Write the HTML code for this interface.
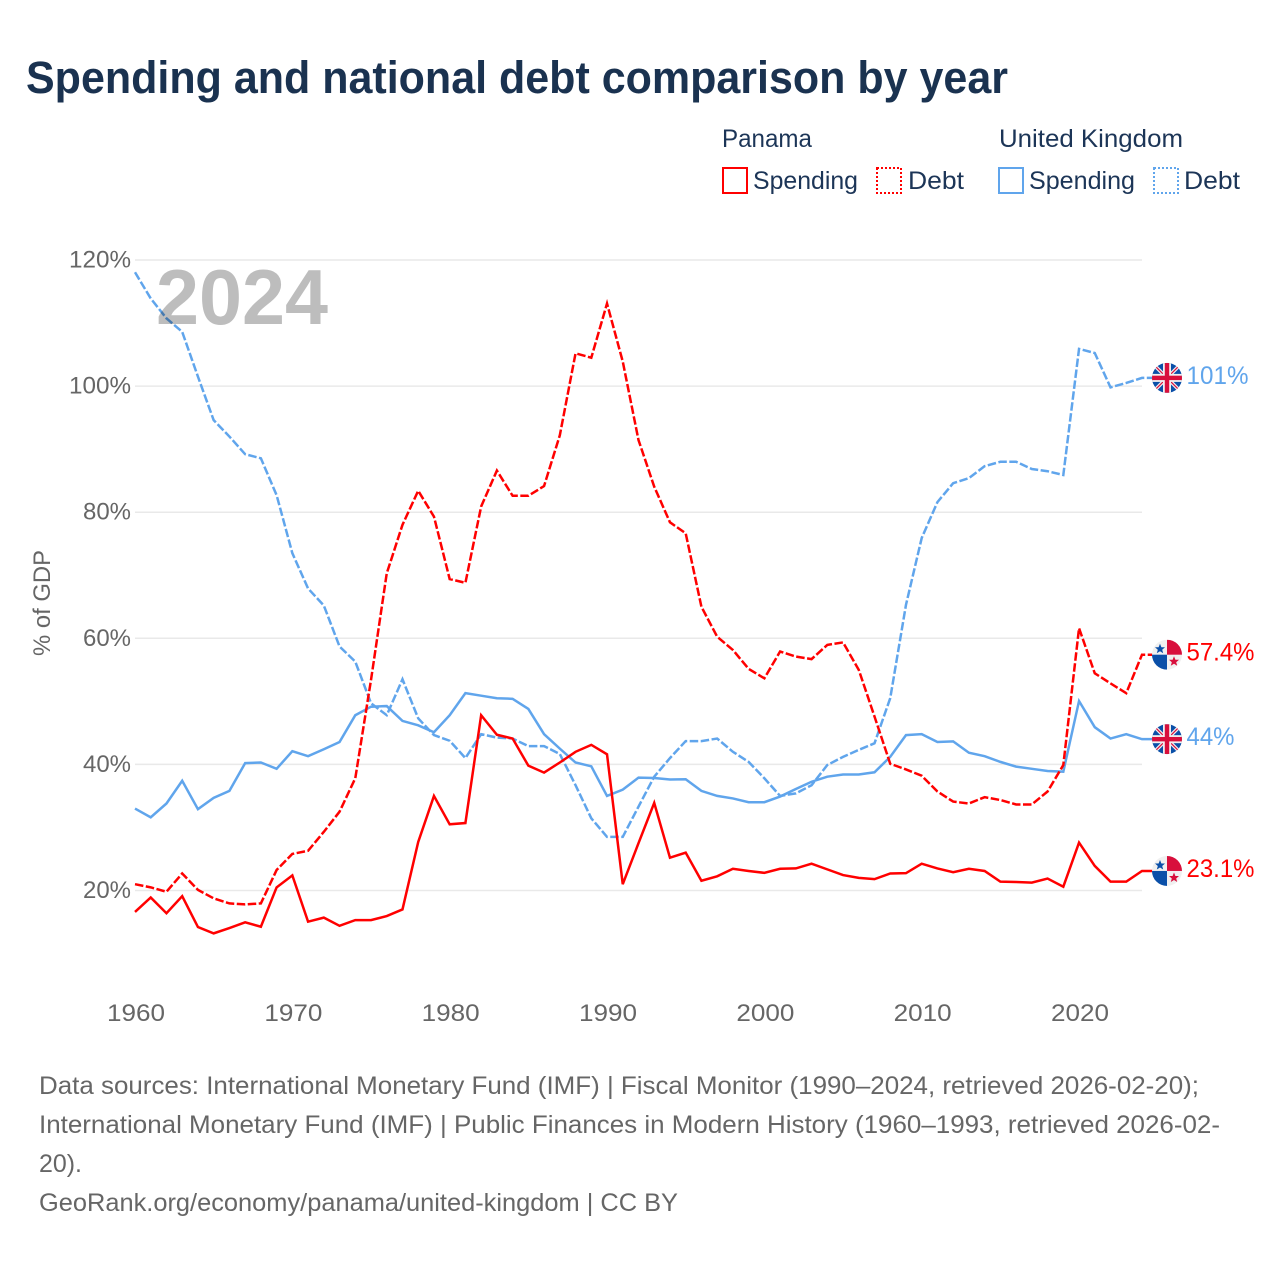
<!DOCTYPE html>
<html lang="en">
<head>
<meta charset="utf-8">
<title>Spending and national debt comparison by year</title>
<style>
html,body{margin:0;padding:0;background:#fff;}
svg{display:block;}
text{font-family:"Liberation Sans",sans-serif;}
</style>
</head>
<body>
<svg id="chart" xmlns="http://www.w3.org/2000/svg" width="1280" height="1280" viewBox="0 0 1280 1280">
  <defs>
    <clipPath id="flag-clip"><circle cx="0" cy="0" r="15"/></clipPath>
    <g id="flag-uk">
      <g clip-path="url(#flag-clip)">
        <rect x="-15" y="-15" width="30" height="30" fill="#0a4fa8"/>
        <path d="M-15-15L15 15M15-15L-15 15" stroke="#f0f0f0" stroke-width="3.6"/>
        <path d="M-15-15L15 15M15-15L-15 15" stroke="#d80f3c" stroke-width="1.2"/>
        <rect x="-15" y="-4" width="30" height="8" fill="#f0f0f0"/>
        <rect x="-4" y="-15" width="8" height="30" fill="#f0f0f0"/>
        <rect x="-15" y="-2.2" width="30" height="4.4" fill="#d80f3c"/>
        <rect x="-2.2" y="-15" width="4.4" height="30" fill="#d80f3c"/>
      </g>
    </g>
    <g id="flag-pa">
      <g clip-path="url(#flag-clip)">
        <rect x="-15" y="-15" width="30" height="30" fill="#f0f0f0"/>
        <rect x="0" y="-15" width="15" height="15" fill="#d80f3c"/>
        <rect x="-15" y="0" width="15" height="15" fill="#0a4fa8"/>
        <polygon points="-7,-11 -5.6,-7.4 -2,-7.4 -4.8,-5 -3.8,-1.4 -7,-3.4 -10.2,-1.4 -9.2,-5 -12,-7.4 -8.4,-7.4" fill="#0a4fa8"/>
        <polygon points="7,1.5 8.4,5.1 12,5.1 9.2,7.5 10.2,11.1 7,9.1 3.8,11.1 4.8,7.5 2,5.1 5.6,5.1" fill="#d80f3c"/>
      </g>
    </g>
  </defs>

  <text x="26" y="93" font-size="45" font-weight="700" fill="#1a3250" textLength="982" lengthAdjust="spacingAndGlyphs">Spending and national debt comparison by year</text>

  <g font-size="25" fill="#1c3557">
    <text x="722" y="147" textLength="90" lengthAdjust="spacingAndGlyphs">Panama</text>
    <text x="999" y="147" textLength="184" lengthAdjust="spacingAndGlyphs">United Kingdom</text>
    <rect x="723" y="168" width="24" height="25" fill="none" stroke="#ff0000" stroke-width="2"/>
    <text x="753" y="189" textLength="105" lengthAdjust="spacingAndGlyphs">Spending</text>
    <rect x="877" y="168" width="24" height="25" fill="none" stroke="#ff0000" stroke-width="2" stroke-dasharray="2 2"/>
    <text x="908" y="189" textLength="56" lengthAdjust="spacingAndGlyphs">Debt</text>
    <rect x="999" y="168" width="24" height="25" fill="none" stroke="#60a5ec" stroke-width="2"/>
    <text x="1029" y="189" textLength="106" lengthAdjust="spacingAndGlyphs">Spending</text>
    <rect x="1154" y="168" width="24" height="25" fill="none" stroke="#60a5ec" stroke-width="2" stroke-dasharray="2 2"/>
    <text x="1184" y="189" textLength="56" lengthAdjust="spacingAndGlyphs">Debt</text>
  </g>

  <text transform="translate(50,603) rotate(-90)" text-anchor="middle" font-size="24" fill="#666" textLength="106" lengthAdjust="spacingAndGlyphs">% of GDP</text>

  <g id="grid"></g>
  <g id="y-ticks"></g>
  <g id="x-ticks"></g>
  <g id="series"></g>

  <text x="156" y="324" font-size="78" font-weight="700" fill="#bdbdbd" textLength="172" lengthAdjust="spacingAndGlyphs" style="mix-blend-mode:multiply">2024</text>

  <g id="end-labels"></g>

  <g font-size="25" fill="#666">
    <text x="39" y="1094" textLength="1160" lengthAdjust="spacingAndGlyphs">Data sources: International Monetary Fund (IMF) | Fiscal Monitor (1990–2024, retrieved 2026-02-20);</text>
    <text x="39" y="1133" textLength="1181" lengthAdjust="spacingAndGlyphs">International Monetary Fund (IMF) | Public Finances in Modern History (1960–1993, retrieved 2026-02-</text>
    <text x="39" y="1172" textLength="43" lengthAdjust="spacingAndGlyphs">20).</text>
    <text x="39" y="1211" textLength="639" lengthAdjust="spacingAndGlyphs">GeoRank.org/economy/panama/united-kingdom | CC BY</text>
  </g>
</svg>

<script>
const firstYear = 1960;
const yTickValues = [20, 40, 60, 80, 100, 120];
const xTickValues = [1960, 1970, 1980, 1990, 2000, 2010, 2020];

const panamaSpending = [16.6,18.9,16.4,19.1,14.2,13.2,14.05,14.95,14.26,20.5,22.4,15.06,15.7,14.4,15.3,15.3,15.95,17.0,27.7,35.0,30.5,30.7,47.8,44.7,44.1,39.8,38.7,40.3,42.0,43.1,41.6,21.0,27.5,33.9,25.2,26.0,21.55,22.25,23.45,23.1,22.8,23.45,23.5,24.25,23.35,22.45,22.0,21.8,22.7,22.75,24.25,23.5,22.9,23.45,23.1,21.4,21.35,21.25,21.9,20.6,27.6,23.9,21.4,21.4,23.1];
const panamaDebt = [21.0,20.5,19.8,22.7,20.1,18.75,17.95,17.8,17.95,23.25,25.8,26.3,29.3,32.5,37.8,53.4,70.3,78.0,83.4,79.3,69.4,68.8,80.9,86.6,82.6,82.6,84.15,92.2,105.2,104.5,113.1,103.9,91.45,84.05,78.4,76.65,65.0,60.25,58.15,55.15,53.65,57.9,57.1,56.7,58.95,59.35,55.0,47.6,40.1,39.2,38.2,35.7,34.1,33.8,34.8,34.35,33.65,33.65,35.7,39.9,61.6,54.45,52.85,51.3,57.4];
const ukSpending = [33.0,31.6,33.8,37.4,32.9,34.7,35.8,40.2,40.3,39.3,42.1,41.3,42.4,43.55,47.8,49.15,49.25,46.9,46.2,45.1,47.8,51.3,50.9,50.5,50.4,48.8,44.8,42.5,40.3,39.7,35.0,36.0,37.9,37.85,37.6,37.65,35.8,35.0,34.6,34.0,34.0,34.9,36.1,37.25,38.05,38.4,38.4,38.75,41.2,44.65,44.8,43.55,43.65,41.85,41.3,40.4,39.65,39.3,38.95,38.85,50.05,45.9,44.1,44.8,44.0];
const ukDebt = [118.05,113.9,110.75,108.6,101.5,94.6,92.0,89.2,88.55,82.7,73.5,67.9,65.2,58.7,56.3,49.7,47.8,53.5,47.3,44.65,43.75,41.0,44.8,44.25,44.1,42.9,42.9,41.65,36.7,31.45,28.5,28.5,33.3,38.05,41.0,43.7,43.7,44.1,42.0,40.4,37.8,35.0,35.4,36.7,39.9,41.2,42.3,43.35,50.5,65.3,75.9,81.6,84.6,85.4,87.3,88.0,88.0,86.85,86.5,85.9,105.9,105.25,99.8,100.5,101.3];

const endLabelPanamaSpending = "23.1%";
const endLabelPanamaDebt = "57.4%";
const endLabelUkSpending = "44%";
const endLabelUkDebt = "101%";

const NS = "http://www.w3.org/2000/svg";
const RED = "#ff0000";
const BLUE = "#60a5ec";

function xScale(year) { return 135 + (year - 1960) * 15.734; }
function yScale(v) { return 260 + (120 - v) * 6.305; }

function make(tag, attrs, parent) {
  const el = document.createElementNS(NS, tag);
  for (const k in attrs) el.setAttribute(k, attrs[k]);
  parent.appendChild(el);
  return el;
}

const gridG = document.getElementById("grid");
const yG = document.getElementById("y-ticks");
yTickValues.forEach(function (v) {
  const line = make("line", {x1: 135, x2: 1142, y1: yScale(v), y2: yScale(v), stroke: "#e9e9e9", "stroke-width": 1.5}, gridG);
  
  
  const t = make("text", {x: 131, y: yScale(v) + 7.5, "text-anchor": "end", "font-size": 24, fill: "#666", textLength: v >= 100 ? 62 : 48, lengthAdjust: "spacingAndGlyphs"}, yG);
  t.textContent = v + "%";
  
  
});

const xG = document.getElementById("x-ticks");
xTickValues.forEach(function (yr) {
  const t = make("text", {x: xScale(yr) + 1, y: 1021, "text-anchor": "middle", "font-size": 24, fill: "#666", textLength: 58, lengthAdjust: "spacingAndGlyphs"}, xG);
  t.textContent = yr;
  
  
});

function drawSeries(values, color, dashed, name) {
  const pts = values.map(function (v, i) {
    return xScale(firstYear + i).toFixed(2) + "," + yScale(v).toFixed(2);
  });
  const lastX = xScale(firstYear + values.length - 1);
  const lastY = yScale(values[values.length - 1]);
  pts.push((lastX + 12).toFixed(2) + "," + lastY.toFixed(2));
  const line = make("polyline", {points: pts.join(" "), fill: "none", stroke: color, "stroke-width": 2.5, "stroke-linejoin": "miter"}, document.getElementById("series"));
  if (dashed) line.setAttribute("stroke-dasharray", "8.5 2.5");
  
  
}
drawSeries(ukDebt, BLUE, true, 'line-uk-debt');
drawSeries(ukSpending, BLUE, false, 'line-uk-spending');
drawSeries(panamaDebt, RED, true, 'line-panama-debt');
drawSeries(panamaSpending, RED, false, 'line-panama-spending');

function drawEnd(values, flagId, text, color, name) {
  const g = document.getElementById("end-labels");
  const y = yScale(values[values.length - 1]);
  const u = make("use", {href: "#" + flagId, transform: "translate(1167," + y.toFixed(2) + ")"}, g);
  
  
  const t = make("text", {x: 1186.5, y: (y + 6).toFixed(2), "font-size": 25, fill: color}, g);
  t.setAttribute("textLength", text.length >= 5 ? 68 : (text.length === 4 ? 62 : 48));
  t.setAttribute("lengthAdjust", "spacingAndGlyphs");
  t.textContent = text;
  
  
}
drawEnd(ukDebt, "flag-uk", endLabelUkDebt, BLUE, 'uk-debt');
drawEnd(panamaDebt, "flag-pa", endLabelPanamaDebt, RED, 'panama-debt');
drawEnd(ukSpending, "flag-uk", endLabelUkSpending, BLUE, 'uk-spending');
drawEnd(panamaSpending, "flag-pa", endLabelPanamaSpending, RED, 'panama-spending');
</script>
</body>
</html>
